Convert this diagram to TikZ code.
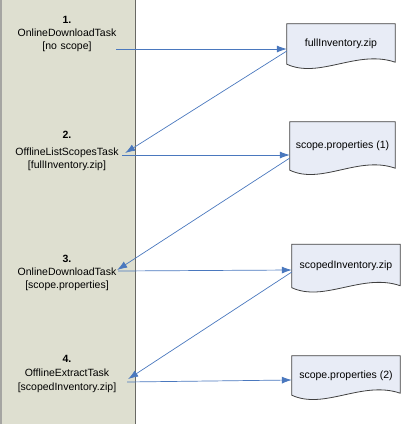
\documentclass[tikz,border=0pt]{standalone}
\usepackage{fontspec}
\setmainfont{Liberation Sans}
\usetikzlibrary{arrows.meta,backgrounds,calc}
\definecolor{lanefill}{RGB}{222,223,208}
\definecolor{lanedraw}{RGB}{105,105,100}
\definecolor{docfill}{RGB}{232,236,246}
\definecolor{docdraw}{RGB}{64,64,64}
\definecolor{flowblue}{RGB}{74,120,190}

\begin{document}
\begin{tikzpicture}[x=1pt, y=-1pt, font=\fontsize{10.5}{13}\selectfont,
  task/.style = {align=center, text width=112pt, inner sep=2pt},
  doc/.style = {minimum width=108pt, inner sep=0pt},
  docline/.style = {draw=docdraw, fill=docfill, line width=0.8pt},
  flow/.style = {draw=flowblue, line width=0.7pt, -{Latex[length=10pt,width=7pt]}}]
\useasboundingbox (0,0) rectangle (401,424);
\fill[lanefill] (0,0) rectangle (135,424);
\draw[lanedraw, line width=1pt] (135,0) -- (135,424);
\draw[lanedraw!60, line width=1.5pt] (1,0) -- (1,424);

\node[task] (t1) at (67,33.5) {\textbf{1.}\\OnlineDownloadTask\\{[no scope]}};
\node[task] (t2) at (67,151) {\textbf{2.}\\[4pt]OfflineListScopesTask\\{[fullInventory.zip]}};
\node[task] (t3) at (67,273) {\textbf{3.}\\OnlineDownloadTask\\{[scope.properties]}};
\node[task] (t4) at (67,374) {\textbf{4.}\\[1pt]OfflineExtractTask\\[1pt]{[scopedInventory.zip]}};

\node[doc, minimum height=40pt] (d1) at (341,44) {fullInventory.zip};
\node[doc, minimum width=105pt, minimum height=48pt] (d2) at (342.5,146) {scope.properties (1)};
\node[doc, minimum height=43pt] (d3) at (346,266) {scopedInventory.zip};
\node[doc, minimum height=39pt] (d4) at (346,375.5) {scope.properties (2)};

\begin{scope}[on background layer]
\foreach \d in {d1,d2,d3,d4}
  \draw[docline] (\d.north west) -- (\d.north east) -- ([yshift=2pt]\d.south east)
    .. controls ($(\d.south west)!0.65!(\d.south east)+(0,-15)$) and ($(\d.south west)!0.3!(\d.south east)+(0,15)$) .. (\d.south west) -- cycle;
\end{scope}

\draw[flow] ([xshift=-9pt,yshift=-15.5pt]t1.east) -- ([yshift=-5pt]d1.west);
\draw[flow] ([yshift=-7pt]d1.west) -- ([yshift=-2pt]t2.east);
\draw[flow] ([xshift=-3pt,yshift=-4pt]t2.east) -- ([yshift=-9pt]d2.west);
\draw[flow] ([yshift=-12pt]d2.west) -- ([xshift=-8pt,yshift=3pt]t3.east);
\draw[flow] ([xshift=-7pt,yshift=2pt]t3.east) -- ([yshift=-4pt]d3.west);
\draw[flow] ([yshift=-6pt]d3.west) -- ([xshift=3pt,yshift=-5pt]t4.east);
\draw[flow] ([xshift=2pt,yshift=-8pt]t4.east) -- ([yshift=-4.5pt]d4.west);
\end{tikzpicture}
\end{document}
